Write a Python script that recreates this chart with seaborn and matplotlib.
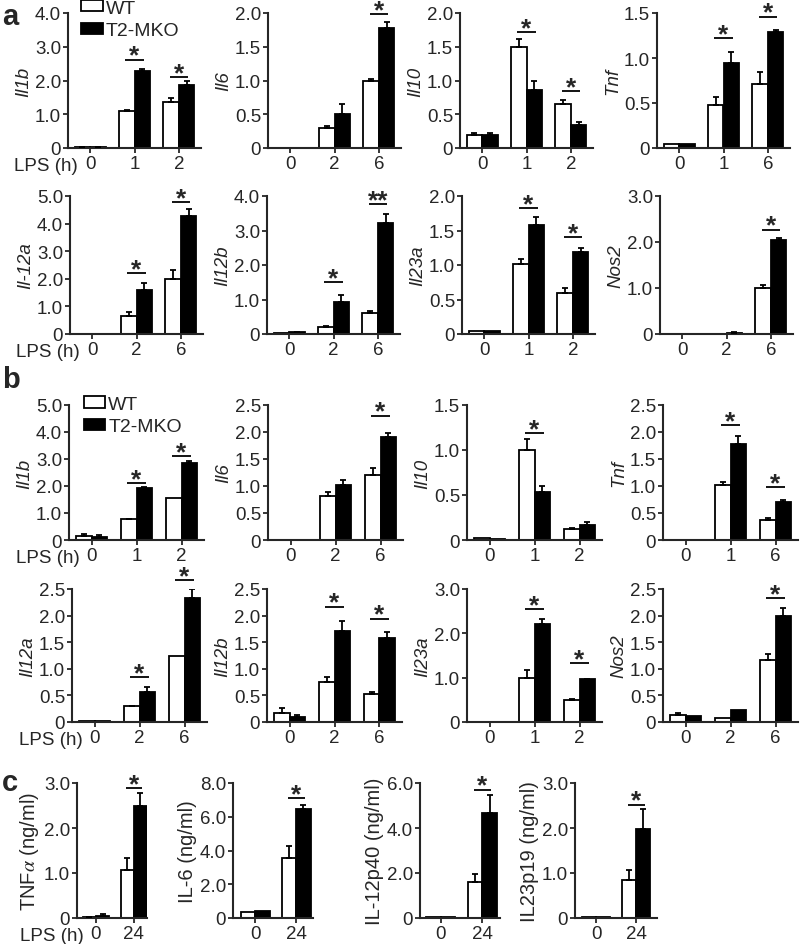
import numpy as np
import pandas as pd
import matplotlib
matplotlib.use("Agg")
import matplotlib.pyplot as plt
from matplotlib.patches import Patch
import seaborn as sns

# ---------------- data ----------------
GENOTYPES = ["WT", "T2-MKO"]

# panel a (row 1 and row 2)
a_labels = ["Il1b", "Il6", "Il10", "Tnf", "Il-12a", "Il12b", "Il23a", "Nos2"]
a_times = [["0", "1", "2"], ["0", "2", "6"], ["0", "1", "2"], ["0", "1", "6"],
           ["0", "2", "6"], ["0", "2", "6"], ["0", "1", "2"], ["0", "2", "6"]]
a_wt = [[0.02, 1.09, 1.36], [0.005, 0.29, 1.00], [0.20, 1.50, 0.65], [0.04, 0.48, 0.71],
        [0.01, 0.64, 2.01], [0.02, 0.21, 0.62], [0.04, 1.02, 0.59], [0.01, 0.01, 1.00]]
a_wt_err = [[0.01, 0.04, 0.12], [0.0, 0.03, 0.02], [0.02, 0.11, 0.06], [0.0, 0.09, 0.14],
            [0.0, 0.15, 0.31], [0.0, 0.03, 0.05], [0.0, 0.07, 0.08], [0.0, 0.0, 0.06]]
a_ko = [[0.02, 2.27, 1.88], [0.005, 0.51, 1.78], [0.20, 0.86, 0.34], [0.04, 0.95, 1.29],
        [0.01, 1.61, 4.29], [0.06, 0.94, 3.22], [0.04, 1.58, 1.19], [0.01, 0.03, 2.05]]
a_ko_err = [[0.01, 0.07, 0.10], [0.0, 0.14, 0.09], [0.02, 0.13, 0.05], [0.0, 0.12, 0.02],
            [0.0, 0.24, 0.23], [0.01, 0.19, 0.25], [0.0, 0.11, 0.06], [0.0, 0.01, 0.03]]
a_ymax = [4.0, 2.0, 2.0, 1.5, 5.0, 4.0, 2.0, 3.0]
a_ystep = [1.0, 0.5, 0.5, 0.5, 1.0, 1.0, 0.5, 1.0]
a_stars = [[None, ("*", 2.62), ("*", 2.10)], [None, None, ("*", 1.98)],
           [None, ("*", 1.72), ("*", 0.84)], [None, ("*", 1.22), ("*", 1.46)],
           [None, ("*", 2.20), ("*", 4.78)], [None, ("*", 1.50), ("**", 3.76)],
           [None, ("*", 1.82), ("*", 1.40)], [None, None, ("*", 2.27)]]

# panel b (row 1 and row 2)
b_labels = ["Il1b", "Il6", "Il10", "Tnf", "Il12a", "Il12b", "Il23a", "Nos2"]
b_times = [["0", "1", "2"], ["0", "2", "6"], ["0", "1", "2"], ["0", "1", "6"],
           ["0", "2", "6"], ["0", "2", "6"], ["0", "1", "2"], ["0", "2", "6"]]
b_wt = [[0.15, 0.77, 1.55], [0.005, 0.82, 1.20], [0.02, 1.00, 0.12], [0.005, 1.01, 0.37],
        [0.02, 0.30, 1.25], [0.17, 0.75, 0.53], [0.005, 1.00, 0.49], [0.14, 0.07, 1.17]]
b_wt_err = [[0.08, 0.02, 0.0], [0.0, 0.07, 0.13], [0.0, 0.12, 0.01], [0.0, 0.06, 0.03],
            [0.0, 0.01, 0.0], [0.10, 0.09, 0.04], [0.0, 0.18, 0.02], [0.02, 0.0, 0.10]]
b_ko = [[0.12, 1.93, 2.86], [0.005, 1.02, 1.90], [0.01, 0.53, 0.17], [0.005, 1.78, 0.71],
        [0.02, 0.56, 2.33], [0.09, 1.71, 1.58], [0.005, 2.22, 0.96], [0.12, 0.23, 2.00]]
b_ko_err = [[0.05, 0.03, 0.05], [0.0, 0.10, 0.09], [0.0, 0.07, 0.03], [0.0, 0.15, 0.04],
            [0.0, 0.09, 0.17], [0.05, 0.19, 0.12], [0.0, 0.10, 0.01], [0.0, 0.0, 0.14]]
b_ymax = [5.0, 2.5, 1.5, 2.5, 2.5, 2.5, 3.0, 2.5]
b_ystep = [1.0, 0.5, 0.5, 0.5, 0.5, 0.5, 1.0, 0.5]
b_stars = [[None, ("*", 2.11), ("*", 3.11)], [None, None, ("*", 2.30)],
           [None, ("*", 1.19), None], [None, ("*", 2.13), ("*", 0.98)],
           [None, ("*", 0.84), ("*", 2.67)], [None, ("*", 2.17), ("*", 1.94)],
           [None, ("*", 2.55), ("*", 1.33)], [None, None, ("*", 2.33)]]

# panel c
c_labels = ["TNF$\\alpha$ (ng/ml)", "IL-6 (ng/ml)", "IL-12p40 (ng/ml)", "IL23p19 (ng/ml)"]
c_times = ["0", "24"]
c_wt = [[0.02, 1.07], [0.33, 3.55], [0.03, 1.60], [0.03, 0.84]]
c_wt_err = [[0.01, 0.27], [0.0, 0.70], [0.0, 0.37], [0.0, 0.22]]
c_ko = [[0.05, 2.50], [0.43, 6.45], [0.03, 4.67], [0.03, 1.97]]
c_ko_err = [[0.03, 0.27], [0.0, 0.25], [0.0, 0.78], [0.0, 0.45]]
c_ymax = [3.0, 8.0, 6.0, 3.0]
c_ystep = [1.0, 2.0, 2.0, 1.0]
c_stars = [[None, ("*", 2.88)], [None, ("*", 7.12)], [None, ("*", 5.70)], [None, ("*", 2.52)]]

# ---------------- style ----------------
sns.set_style("ticks")
plt.rcParams["font.family"] = ["Liberation Sans", "DejaVu Sans"]
plt.rcParams["mathtext.fontset"] = "stix"
plt.rcParams["axes.linewidth"] = 1.5

W, H = 800, 945
fig = plt.figure(figsize=(W / 100, H / 100), dpi=100)

TICK_FS = 13.5
YLAB_FS = 13.5
TICK_LEN = 3.5
TICK_PAD = 1.5


def make_ax(left, top, width, bottom):
    return fig.add_axes([left / W, 1 - bottom / H, width / W, (bottom - top) / H])


def fmt(v):
    return "0" if abs(v) < 1e-9 else f"{v:.1f}"


def draw_panel(ax, times, wt, wt_err, ko, ko_err, ymax, ystep, stars, ylabel,
               italic=True, xlim=None, ylab_fs=YLAB_FS):
    df = pd.DataFrame({
        "time": list(times) * 2,
        "genotype": ["WT"] * len(times) + ["T2-MKO"] * len(times),
        "value": list(wt) + list(ko),
    })
    sns.barplot(data=df, x="time", y="value", hue="genotype", order=times,
                hue_order=GENOTYPES, palette={"WT": "white", "T2-MKO": "black"},
                edgecolor="black", linewidth=1.3, width=0.7, errorbar=None,
                legend=False, ax=ax)
    for cont, errs in zip(ax.containers, [wt_err, ko_err]):
        for p, e in zip(cont.patches, errs):
            if e > 0.004:
                xc = p.get_x() + p.get_width() / 2
                ax.errorbar([xc], [p.get_height()], yerr=[[0], [e]], fmt="none",
                            ecolor="black", elinewidth=1.3, capsize=2.5,
                            capthick=1.3, zorder=3)
    for i, st in enumerate(stars):
        if st is None:
            continue
        txt, y = st
        ax.plot([i - 0.21, i + 0.21], [y, y], color="black", lw=1.3,
                clip_on=False, solid_capstyle="butt")
        ax.annotate(txt, xy=(i, y), xytext=(0, -3), textcoords="offset pixels",
                    ha="center", va="baseline", fontsize=19, fontweight="bold",
                    annotation_clip=False)
    ax.set_ylim(0, ymax)
    ticks = np.arange(0, ymax + 1e-9, ystep)
    ax.set_yticks(ticks)
    ax.set_yticklabels([fmt(t) for t in ticks])
    ax.set_xlim(*(xlim if xlim is not None else (-0.5, 2.5)))
    ax.set_xlabel("")
    ax.set_ylabel(ylabel, fontsize=ylab_fs, style="italic" if italic else "normal",
                  labelpad=2)
    ax.tick_params(axis="both", direction="out", length=TICK_LEN, width=1.3,
                   labelsize=TICK_FS, pad=TICK_PAD)
    sns.despine(ax=ax)


def lps_label(ax):
    ax.annotate("LPS (h)", xy=(0, 0), xycoords=("data", "axes fraction"),
                xytext=(-12, -(TICK_LEN + TICK_PAD) * 1.39 - 2), textcoords="offset pixels",
                ha="right", va="top", fontsize=TICK_FS, annotation_clip=False)


def add_legend(ax, anchor):
    handles = [Patch(facecolor="white", edgecolor="black", linewidth=1.3),
               Patch(facecolor="black", edgecolor="black", linewidth=1.3)]
    ax.legend(handles, GENOTYPES, loc="upper left", bbox_to_anchor=anchor,
              frameon=False, fontsize=14, handlelength=1.1, handleheight=0.55,
              handletextpad=0.15, labelspacing=0.3, borderpad=0,
              borderaxespad=0)


# row layout: (top, bottom) in pixels
rows = {
    "a1": (14, 149, [68, 268, 460, 657], 133),
    "a2": (197, 335, [70, 267, 462, 660], 133),
    "b1": (406, 541, [69, 268, 467, 663], 135),
    "b2": (590, 723, [72, 267, 467, 663], 135),
}

for key, labels, times, wt, wte, ko, koe, ymx, yst, sts in [
    ("a", a_labels, a_times, a_wt, a_wt_err, a_ko, a_ko_err, a_ymax, a_ystep, a_stars),
    ("b", b_labels, b_times, b_wt, b_wt_err, b_ko, b_ko_err, b_ymax, b_ystep, b_stars),
]:
    for k in range(8):
        r = key + ("1" if k < 4 else "2")
        top, bottom, lefts, width = rows[r]
        ax = make_ax(lefts[k % 4], top, width, bottom)
        draw_panel(ax, times[k], wt[k], wte[k], ko[k], koe[k], ymx[k], yst[k],
                   sts[k], labels[k])
        if k % 4 == 0:
            lps_label(ax)
        if k == 0:
            add_legend(ax, (0.1, 1.1) if key == "a" else (0.11, 1.07))

# panel c
c_lefts = [77, 233, 420, 575]
c_widths = [70, 80, 80, 82]
c_xlims = [(-0.5, 1.35), (-0.54, 1.41), (-0.49, 1.42), (-0.53, 1.52)]
for k in range(4):
    ax = make_ax(c_lefts[k], 784, c_widths[k], 919)
    draw_panel(ax, c_times, c_wt[k], c_wt_err[k], c_ko[k], c_ko_err[k], c_ymax[k],
               c_ystep[k], c_stars[k], c_labels[k], italic=False, xlim=c_xlims[k],
               ylab_fs=14.5)
    if k == 0:
        lps_label(ax)

# panel letters
for letter, x, y in [("a", 2, 3), ("b", 2, 366), ("c", 2, 769)]:
    fig.text(x / W, 1 - y / H, letter, fontsize=21, fontweight="bold",
             ha="left", va="top")

fig.savefig("out.png", dpi=100)
